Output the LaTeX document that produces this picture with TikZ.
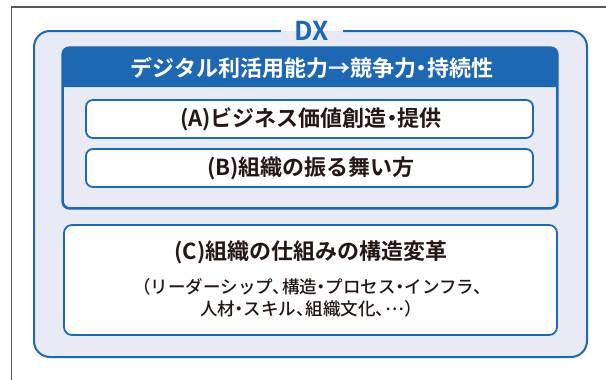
\documentclass[tikz,border=0pt]{standalone}
\usepackage{fontspec}
\setmainfont{Noto Sans CJK JP}
\newfontfamily\jpb{Noto Sans CJK JP Bold}
\newfontfamily\jpm{Noto Sans CJK JP Medium}
\newcommand{\nk}{\kern-0.25em・\kern-0.25em}
\newcommand{\tn}{、\kern-0.45em}
\definecolor{dxblue}{HTML}{1E67B2}
\definecolor{lav}{HTML}{E8EBF6}
\definecolor{ink}{HTML}{231815}
\definecolor{framegray}{HTML}{5A5A5A}
\tikzset{
  whitebox/.style={draw=dxblue, line width=1.8pt, fill=white, rounded corners=7pt, rectangle, inner sep=0pt},
  boxtext/.style={text=ink, font=\jpb\fontsize{22}{26}\selectfont},
  subtext/.style={text=ink, font=\jpm\fontsize{17.5}{22}\selectfont, align=center},
}
\begin{document}
\begin{tikzpicture}[x=1pt,y=-1pt]
\useasboundingbox (0,0) rectangle (606,380);
% outer frame (partly visible)
\coordinate (fbl) at (11.5,381);
\coordinate (ftl) at (11.5,7);
\coordinate (ftr) at (607,7);
\draw[framegray, line width=1.2pt] (fbl) -- (ftl) -- (ftr);
% DX box
\node[draw=dxblue, line width=2pt, fill=lav, rounded corners=16pt, rectangle, minimum width=553pt, minimum height=326pt, inner sep=0pt] (dx) at (310.5,194) {};
\fill[white] (281,18) rectangle (343,31);
\fill[lav] (281,31) rectangle (343,44);
\node[text=dxblue, font=\jpb\fontsize{26}{30}\selectfont, inner sep=0pt] (dxl) at (312,31) {DX};
% group box
\node[draw=dxblue, line width=1.6pt, fill=lav, rounded corners=7pt, rectangle, minimum width=494pt, minimum height=160pt, inner sep=0pt] (grp) at (310,128) {};
\fill[dxblue] (63,87) [rounded corners=7pt]-- (63,48) -- (557,48) [sharp corners]-- (557,87) -- cycle;
\draw[dxblue, line width=1.6pt, rounded corners=7pt] (grp.south west) rectangle (grp.north east);
\node[text=white, font=\jpb\fontsize{22}{26}\selectfont] (hdr) at (312,67.5) {デジタル利活用能力→競争力\nk 持続性};
% A and B
\node[whitebox, minimum width=447pt, minimum height=38pt] (a) at (309.5,119) {};
\node[boxtext] (at) at (311,119.5) {(A)ビジネス価値創造\nk 提供};
\node[whitebox, minimum width=447pt, minimum height=38pt] (b) at (309.5,168) {};
\node[boxtext] (bt) at (311,168.5) {(B)組織の振る舞い方};
% C
\node[whitebox, rounded corners=8pt, minimum width=493pt, minimum height=110pt] (c) at (310.5,280) {};
\node[boxtext] (ct) at (311,252) {(C)組織の仕組みの構造変革};
\node[subtext] (cs) at (311,298) {\kern-0.3em（リーダーシップ\tn 構造\nk プロセス\nk インフラ\tn\\人材\nk スキル\tn 組織文化\tn \raisebox{0.32em}{…}）};
\end{tikzpicture}
\end{document}
